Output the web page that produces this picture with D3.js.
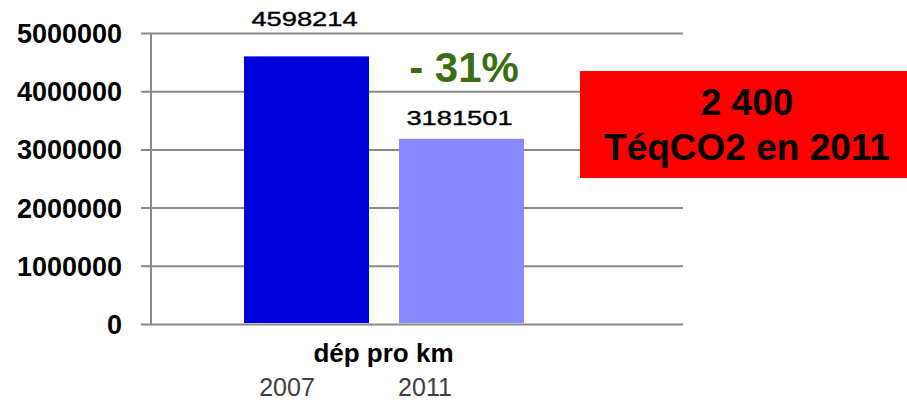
<!DOCTYPE html>
<html>
<head>
<meta charset="utf-8">
<script src="https://cdn.jsdelivr.net/npm/d3@7.9.0/dist/d3.min.js"></script>
<style>
  body { margin: 0; background: #fff; }
  svg { display: block; }
  svg text { font-family: Arial, "Liberation Sans", Helvetica, sans-serif; }
</style>
</head>
<body>
<svg id="chart" width="907" height="403"></svg>
<script>
const categories = ['dép pro km'];
const years = ['2007', '2011'];
const values = [4598214, 3181501];
const yTicks = [0, 1000000, 2000000, 3000000, 4000000, 5000000];
const changeLabel = '- 31%';
const boxLines = ['2 400', 'TéqCO2 en 2011'];

const colors = ['#0000dd', '#8888ff'];

const svg = d3.select('#chart');

// plot area
const plotLeft = 151, plotRight = 683, plotTop = 33, plotBottom = 324;

const y = d3.scaleLinear().domain([0, 5000000]).range([plotBottom, plotTop]);

const x = d3.scaleBand().domain(categories).range([plotLeft, 616]);
const xInner = d3.scaleBand().domain(years)
  .range([x(categories[0]) + 93, x(categories[0]) + x.bandwidth() - 92])
  .paddingInner(30 / 155);

// gridlines + ticks
const yAxis = d3.axisLeft(y).tickValues(yTicks).tickSize(0).tickFormat(d3.format('d'));
const gAxis = svg.append('g').attr('transform', `translate(${plotLeft - 10},0)`).call(yAxis);
gAxis.attr('font-family', null).attr('font-size', null);
gAxis.select('.domain').remove();
gAxis.selectAll('.tick line')
  .attr('x1', 0).attr('x2', plotRight - plotLeft + 10)
  .attr('stroke', '#888').attr('stroke-width', 2);
gAxis.selectAll('.tick text')
  .attr('x', -19).attr('dy', '0.35em')
  .attr('font-size', 27).attr('font-weight', 'bold').attr('fill', '#000');

// vertical axis line
svg.append('line')
  .attr('x1', plotLeft).attr('x2', plotLeft).attr('y1', y(5000000)).attr('y2', y(0))
  .attr('stroke', '#888').attr('stroke-width', 2);

// bars
svg.selectAll('rect.bar')
  .data(values)
  .join('rect')
  .attr('class', 'bar')
  .attr('x', (d, i) => xInner(years[i]))
  .attr('width', xInner.bandwidth())
  .attr('y', d => y(d))
  .attr('height', d => y(0) - y(d) - 1)
  .attr('fill', (d, i) => colors[i]);

// value labels (stretched a bit, like the original)
const labelGap = [30, 14];
svg.selectAll('text.val')
  .data(values)
  .join('text')
  .attr('class', 'val')
  .attr('transform', (d, i) => {
    const cx = xInner(years[i]) + xInner.bandwidth() / 2 - 2;
    return `translate(${cx},${y(d) - labelGap[i]}) scale(1.3,1)`;
  })
  .attr('text-anchor', 'middle')
  .attr('font-size', 21)
  .attr('fill', '#000')
  .attr('stroke', '#000').attr('stroke-width', 0.4)
  .text(d => d);

// category label
svg.append('text')
  .attr('x', x(categories[0]) + x.bandwidth() / 2)
  .attr('y', 362)
  .attr('text-anchor', 'middle')
  .attr('font-size', 26)
  .attr('font-weight', 'bold')
  .text(categories[0]);

// year labels
const yearX = d3.scalePoint().domain(years).range([287, 425]);
svg.selectAll('text.year')
  .data(years)
  .join('text')
  .attr('class', 'year')
  .attr('x', d => yearX(d))
  .attr('y', 396)
  .attr('text-anchor', 'middle')
  .attr('font-size', 25)
  .attr('fill', '#404040')
  .text(d => d);

// change label
svg.append('text')
  .attr('x', 464).attr('y', 82)
  .attr('text-anchor', 'middle')
  .attr('font-size', 42).attr('font-weight', 'bold')
  .attr('fill', '#3b6e12')
  .text(changeLabel);

// red box
svg.append('rect')
  .attr('x', 580).attr('y', 71).attr('width', 327).attr('height', 107)
  .attr('fill', '#ff0000');
svg.selectAll('text.box')
  .data(boxLines)
  .join('text')
  .attr('class', 'box')
  .attr('x', 747)
  .attr('y', (d, i) => 115 + i * 45)
  .attr('text-anchor', 'middle')
  .attr('font-size', 37).attr('font-weight', 'bold')
  .attr('fill', '#000')
  .text(d => d);
</script>
</body>
</html>
